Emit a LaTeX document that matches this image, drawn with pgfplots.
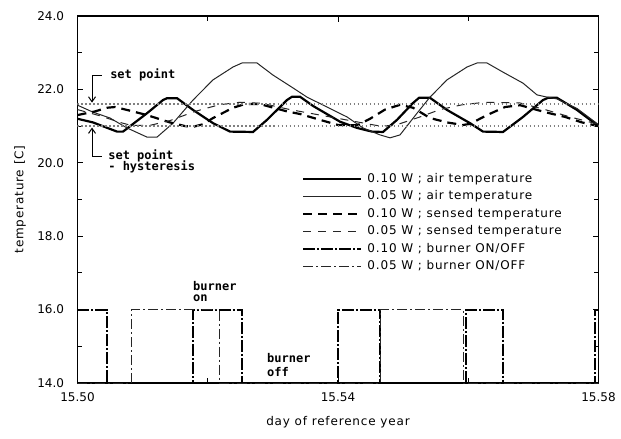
\documentclass[border=0pt]{standalone}
\usepackage{fontspec}
\setmainfont{DejaVu Sans}
\newfontfamily\annfont{DejaVu Sans Mono}
\newfontfamily\legfont[LetterSpace=7]{DejaVu Sans}
\usepackage{pgfplots}
\pgfplotsset{compat=1.18}
\usetikzlibrary{arrows.meta}
\begin{document}
\begin{tikzpicture}
\begin{axis}[
  scale only axis, width=521bp, height=367bp,
  xmin=15.5, xmax=15.58, ymin=14, ymax=24,
  xtick={15.50,15.54,15.58}, minor xtick={15.52,15.56},
  ytick={14,16,18,20,22,24}, minor ytick={15,17,19,21,23},
  scaled x ticks=false, scaled y ticks=false,
  tick align=inside, major tick length=6bp, minor tick length=5bp,
  axis line style={line width=1.2bp},
  every tick/.style={black, line width=1bp},
  x tick label style={/pgf/number format/fixed, /pgf/number format/fixed zerofill, /pgf/number format/precision=2, /pgf/number format/assume math mode=true, font=\fontsize{12bp}{14bp}\selectfont, yshift=-6bp},
  y tick label style={/pgf/number format/fixed, /pgf/number format/fixed zerofill, /pgf/number format/precision=1, /pgf/number format/assume math mode=true, font=\fontsize{12bp}{14bp}\selectfont, xshift=-10bp},
  xlabel={day of reference year},
  ylabel={temperature [C]},
  xlabel style={at={(axis description cs:0.5,-0.106)}, anchor=center, font=\legfont\fontsize{12bp}{14bp}\selectfont},
  ylabel style={at={(axis description cs:-0.110,0.5)}, anchor=center, font=\legfont\fontsize{12bp}{14bp}\selectfont},
  legend style={at={(axis description cs:0.431,0.575)}, anchor=north west, draw=none, fill=none, inner sep=0pt, row sep=3.5bp, column sep=4bp, font=\legfont\fontsize{12bp}{14bp}\selectfont, nodes={inner sep=1bp, text height=9bp, text depth=3bp}},
  legend cell align=left,
  legend image code/.code={\draw[#1] (0bp,0bp) -- (58bp,0bp);},
]
% 0.10 W air temperature
\addplot[black, line width=2.2bp] table {
15.50000 21.20
15.50238 21.10
15.50607 20.85
15.50699 20.85
15.51067 21.35
15.51313 21.71
15.51374 21.76
15.51528 21.76
15.51774 21.44
15.52081 21.08
15.52342 20.85
15.52695 20.84
15.52910 21.17
15.53217 21.71
15.53294 21.80
15.53417 21.80
15.53616 21.55
15.54031 21.12
15.54292 20.95
15.54522 20.85
15.54691 20.84
15.54906 21.17
15.55152 21.63
15.55244 21.77
15.55413 21.77
15.55674 21.44
15.56027 21.08
15.56227 20.85
15.56534 20.84
15.56841 21.25
15.57148 21.71
15.57225 21.77
15.57363 21.77
15.57670 21.44
15.58000 21.00
};
\addlegendentry{0.10 W ; air temperature}
% 0.05 W air temperature
\addplot[black!85, line width=1bp] table {
15.50000 21.57
15.50238 21.38
15.50499 21.22
15.50760 20.95
15.51067 20.70
15.51221 20.70
15.51467 21.08
15.51774 21.71
15.52081 22.26
15.52388 22.61
15.52526 22.72
15.52756 22.72
15.53002 22.39
15.53309 22.04
15.53524 21.79
15.53831 21.52
15.54138 21.25
15.54384 20.95
15.54645 20.76
15.54799 20.68
15.54952 20.76
15.55213 21.35
15.55413 21.79
15.55674 22.26
15.55981 22.61
15.56135 22.72
15.56288 22.72
15.56534 22.47
15.56841 22.17
15.57056 21.85
15.57210 21.79
15.57363 21.74
15.57670 21.48
15.58000 21.04
};
\addlegendentry{0.05 W ; air temperature}
% 0.10 W sensed temperature
\addplot[black, line width=2.2bp, dash pattern=on 9bp off 6bp] table {
15.50000 21.30
15.50269 21.40
15.50453 21.50
15.50576 21.52
15.50806 21.42
15.51067 21.30
15.51420 21.10
15.51651 21.00
15.51774 20.98
15.51927 21.05
15.52081 21.22
15.52388 21.50
15.52572 21.60
15.52802 21.60
15.53217 21.40
15.53417 21.33
15.53724 21.17
15.54000 21.03
15.54292 21.02
15.54492 21.20
15.54722 21.45
15.54952 21.58
15.55152 21.50
15.55413 21.22
15.55674 21.10
15.55920 21.03
15.56027 21.06
15.56288 21.30
15.56565 21.52
15.56795 21.57
15.57179 21.38
15.57486 21.25
15.57747 21.10
15.58000 21.00
};
\addlegendentry{0.10 W ; sensed temperature}
% 0.05 W sensed temperature
\addplot[black!85, line width=1bp, dash pattern=on 8bp off 7bp] table {
15.50000 21.45
15.50346 21.28
15.50653 21.10
15.50822 21.02
15.51113 21.02
15.51420 21.15
15.51804 21.40
15.52173 21.58
15.52495 21.65
15.52833 21.62
15.53263 21.45
15.53724 21.30
15.54185 21.15
15.54645 21.00
15.54876 21.02
15.55260 21.25
15.55567 21.45
15.55904 21.58
15.56258 21.65
15.56795 21.63
15.57179 21.45
15.57563 21.25
15.58000 21.05
};
\addlegendentry{0.05 W ; sensed temperature}
% 0.10 W burner ON/OFF
\addplot[black, line width=2.2bp, dash pattern=on 12bp off 2bp on 2bp off 2bp] table {
15.50000 16
15.50453 16
15.50453 14
15.51774 14
15.51774 16
15.52526 16
15.52526 14
15.54000 14
15.54000 16
15.54645 16
15.54645 14
15.55966 14
15.55966 16
15.56534 16
15.56534 14
15.57947 14
15.57947 16
15.58000 16
};
\addlegendentry{0.10 W ; burner ON/OFF}
% 0.05 W burner ON/OFF
\addplot[black!85, line width=1bp, dash pattern=on 10bp off 3bp on 2bp off 3bp] table {
15.50000 14
15.50822 14
15.50822 16
15.52173 16
15.52173 14
15.54645 14
15.54645 16
15.55920 16
15.55920 14
15.58000 14
};
\addlegendentry{0.05 W ; burner ON/OFF}
% set point and set point - hysteresis
\addplot[black!50, line width=1.5bp, dash pattern=on 1.5bp off 2.5bp, forget plot] table {
15.50 21.6
15.58 21.6
};
\addplot[black!50, line width=1.5bp, dash pattern=on 1.5bp off 2.5bp, forget plot] table {
15.50 21.0
15.58 21.0
};
% annotations
\draw[line width=1bp, -{Straight Barb[length=5bp,width=7bp]}] (axis cs:15.50376,22.39) -- (axis cs:15.50223,22.39) -- (axis cs:15.50223,21.64);
\draw[line width=1bp, -{Straight Barb[length=5bp,width=7bp]}] (axis cs:15.50376,20.16) -- (axis cs:15.50223,20.16) -- (axis cs:15.50223,20.96);
\node[anchor=base west, inner sep=0pt, font=\annfont\bfseries\fontsize{12bp}{14bp}\selectfont] at (axis cs:15.5050,22.31) {set point};
\node[anchor=base west, inner sep=0pt, font=\annfont\bfseries\fontsize{12bp}{14bp}\selectfont] at (axis cs:15.5047,20.10) {set point};
\node[anchor=base west, inner sep=0pt, font=\annfont\bfseries\fontsize{12bp}{14bp}\selectfont] at (axis cs:15.5047,19.78) {- hysteresis};
\node[anchor=base west, inner sep=0pt, font=\annfont\bfseries\fontsize{12bp}{14bp}\selectfont] at (axis cs:15.51774,16.53) {burner};
\node[anchor=base west, inner sep=0pt, font=\annfont\bfseries\fontsize{12bp}{14bp}\selectfont] at (axis cs:15.51774,16.21) {on};
\node[anchor=base west, inner sep=0pt, font=\annfont\bfseries\fontsize{12bp}{14bp}\selectfont] at (axis cs:15.5291,14.545) {burner};
\node[anchor=base west, inner sep=0pt, font=\annfont\bfseries\fontsize{12bp}{14bp}\selectfont] at (axis cs:15.5291,14.19) {off};
\end{axis}
\path (-77.5bp,-56bp) rectangle (543.5bp,383bp);
\end{tikzpicture}
\end{document}
